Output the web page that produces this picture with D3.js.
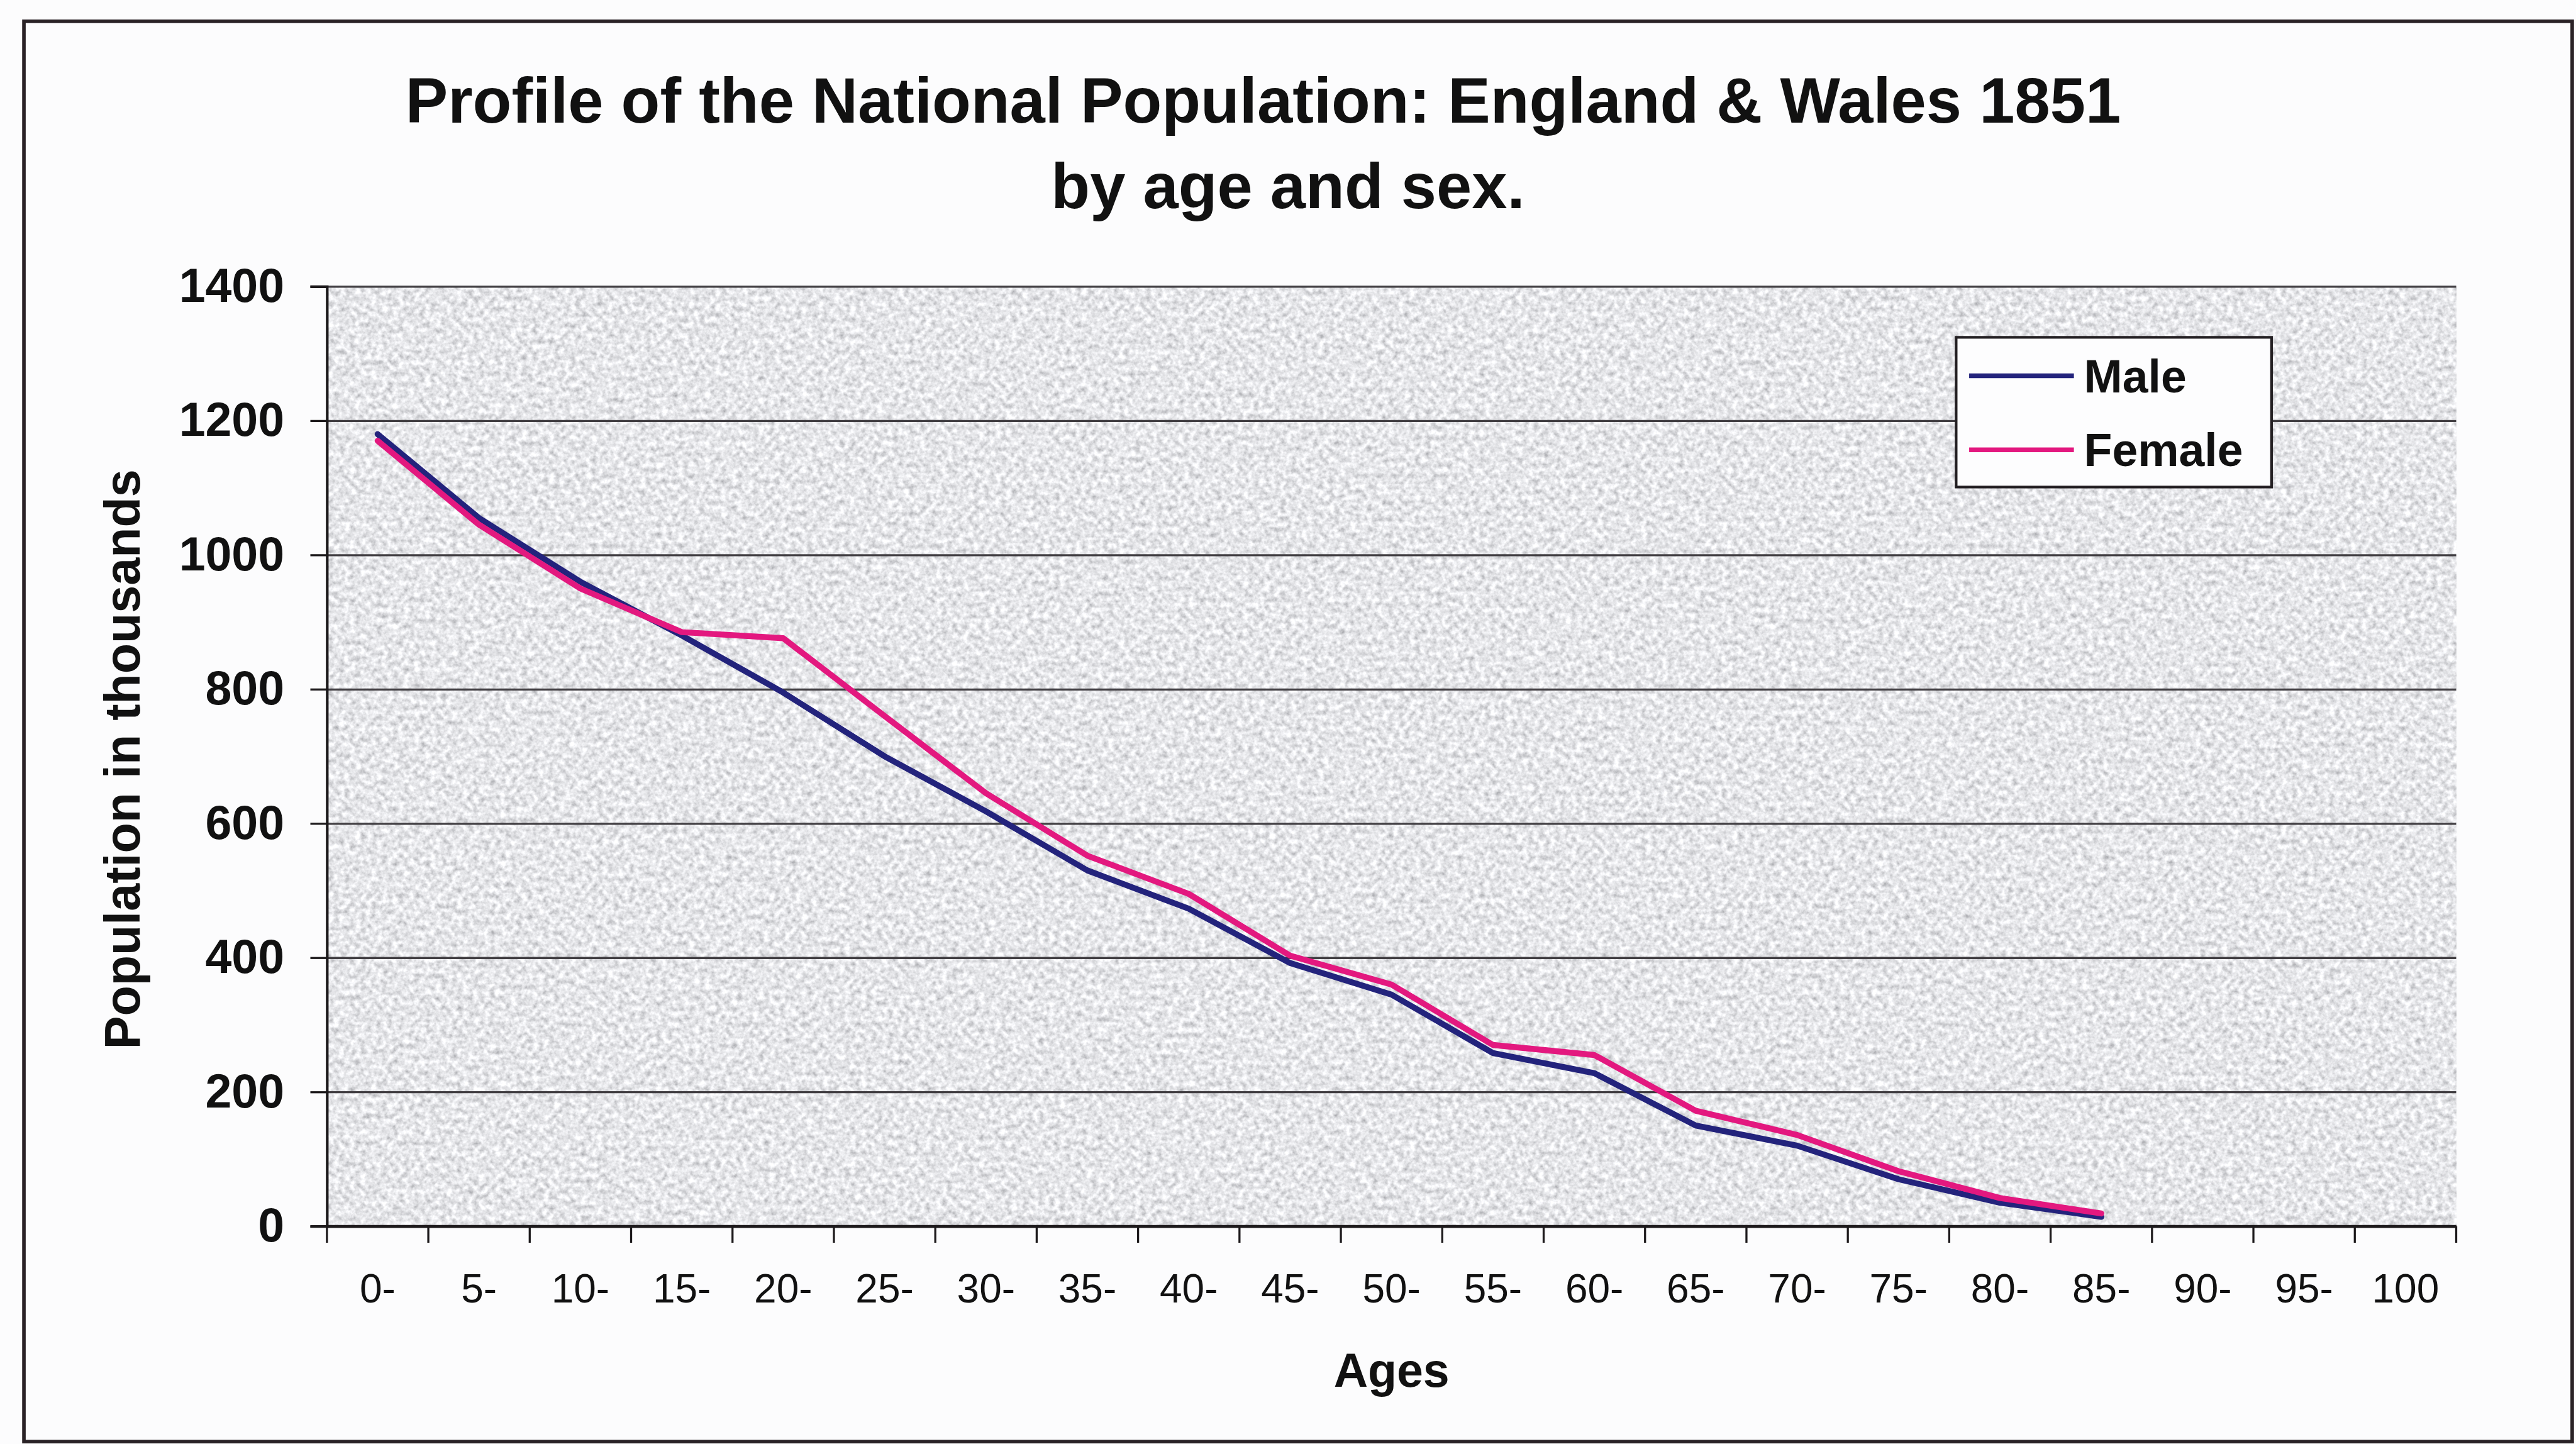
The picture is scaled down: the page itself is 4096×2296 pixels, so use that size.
<!DOCTYPE html>
<html>
<head>
<meta charset="utf-8">
<title>Profile of the National Population: England &amp; Wales 1851</title>
<script src="https://cdn.jsdelivr.net/npm/d3@7"></script>
<style>
  html, body { margin: 0; padding: 0; background: #fcfcfd; overflow: hidden; }
  svg { display: block; }
</style>
</head>
<body>
<svg id="chart" width="4096" height="2296" viewBox="0 0 4352 2440"></svg>
<script>
// Five-year age groups on the category axis
const ageGroups = ["0-", "5-", "10-", "15-", "20-", "25-", "30-", "35-", "40-", "45-",
                   "50-", "55-", "60-", "65-", "70-", "75-", "80-", "85-", "90-", "95-", "100"];

// Population in thousands, one value per age group (0- to 85-)
const maleThousands   = [1180, 1055, 960, 880, 795, 700, 618, 530, 473, 392,
                         345, 258, 228, 150, 120, 70, 35, 14];
const femaleThousands = [1170, 1045, 950, 885, 876, 760, 645, 552, 495, 403,
                         360, 270, 255, 172, 136, 82, 42, 19];

const yTicks = [0, 200, 400, 600, 800, 1000, 1200, 1400];
const seriesNames = ["Male", "Female"];
const seriesColors = ["#23237c", "#e3187f"];

const FONT = "'Liberation Sans', Arial, Helvetica, sans-serif";

const svg = d3.select("#chart");

// plot frame
const plot = { left: 552, right: 4150, top: 484, bottom: 2072 };

const x = d3.scaleBand()
  .domain(ageGroups)
  .range([plot.left, plot.right])
  .padding(0);

const y = d3.scaleLinear()
  .domain([0, 1400])
  .range([plot.bottom, plot.top]);

// grainy grey fill of the plot area
const defs = svg.append("defs");
const grain = defs.append("filter")
  .attr("id", "grain")
  .attr("x", 0).attr("y", 0).attr("width", 1).attr("height", 1);
grain.append("feTurbulence")
  .attr("type", "fractalNoise")
  .attr("baseFrequency", 0.11)
  .attr("numOctaves", 3)
  .attr("seed", 7)
  .attr("result", "noise");
grain.append("feColorMatrix")
  .attr("in", "noise")
  .attr("type", "matrix")
  .attr("values",
    "0.9 0 0 0 0.34  " +
    "0.9 0 0 0 0.345 " +
    "0.9 0 0 0 0.37  " +
    "0 0 0 0 1");

// outer chart border
svg.append("rect")
  .attr("x", 40).attr("y", 36)
  .attr("width", 4306).attr("height", 2400)
  .attr("fill", "#fcfcfd")
  .attr("stroke", "#2a2226")
  .attr("stroke-width", 6);

svg.append("rect")
  .attr("x", plot.left).attr("y", plot.top)
  .attr("width", plot.right - plot.left)
  .attr("height", plot.bottom - plot.top)
  .attr("fill", "#cfd0d6")
  .attr("filter", "url(#grain)");

// horizontal gridlines
const grid = svg.append("g")
  .attr("transform", `translate(${plot.left},0)`)
  .call(d3.axisLeft(y).tickValues(yTicks).tickSize(-(plot.right - plot.left)).tickFormat(""));
grid.select(".domain").remove();
grid.selectAll(".tick line")
  .attr("stroke", "#413e42")
  .attr("stroke-width", 3.5);

// value axis
const yAxis = svg.append("g")
  .attr("transform", `translate(${plot.left},0)`)
  .call(d3.axisLeft(y).tickValues(yTicks).tickSize(28).tickPadding(44).tickFormat(d3.format("d")));
yAxis.select(".domain")
  .attr("stroke", "#1d1a1c")
  .attr("stroke-width", 4.5);
yAxis.selectAll(".tick line")
  .attr("stroke", "#1d1a1c")
  .attr("stroke-width", 3.5);
yAxis.selectAll(".tick text")
  .attr("font-family", FONT)
  .attr("font-size", 80)
  .attr("font-weight", "bold")
  .attr("fill", "#111");

// category axis: ticks fall between age groups
const xAxis = svg.append("g")
  .attr("transform", `translate(0,${plot.bottom})`)
  .call(d3.axisBottom(x).tickSize(0).tickPadding(81));
xAxis.select(".domain")
  .attr("stroke", "#1d1a1c")
  .attr("stroke-width", 5);
xAxis.selectAll(".tick text")
  .attr("font-family", FONT)
  .attr("font-size", 68)
  .attr("fill", "#111");

const boundaries = ageGroups.map(g => x(g)).concat([plot.right]);
xAxis.selectAll("line.between")
  .data(boundaries)
  .join("line")
  .attr("class", "between")
  .attr("x1", d => d).attr("x2", d => d)
  .attr("y1", 0).attr("y2", 28)
  .attr("stroke", "#1d1a1c")
  .attr("stroke-width", 3.5);

// population lines
const line = d3.line()
  .x((d, i) => x(ageGroups[i]) + x.bandwidth() / 2)
  .y(d => y(d));

[maleThousands, femaleThousands].forEach((values, k) => {
  svg.append("path")
    .datum(values)
    .attr("fill", "none")
    .attr("stroke", seriesColors[k])
    .attr("stroke-width", 10)
    .attr("stroke-linejoin", "round")
    .attr("stroke-linecap", "round")
    .attr("d", line);
});

// legend
const legend = svg.append("g");
legend.append("rect")
  .attr("x", 3305).attr("y", 570)
  .attr("width", 533).attr("height", 253)
  .attr("fill", "#fdfdfe")
  .attr("stroke", "#231f22")
  .attr("stroke-width", 4.5);

const legendRows = [635, 760];
seriesNames.forEach((name, k) => {
  legend.append("line")
    .attr("x1", 3327).attr("x2", 3504)
    .attr("y1", legendRows[k]).attr("y2", legendRows[k])
    .attr("stroke", seriesColors[k])
    .attr("stroke-width", 8);
  legend.append("text")
    .attr("x", 3521)
    .attr("y", legendRows[k] + 28)
    .attr("font-family", FONT)
    .attr("font-size", 78)
    .attr("font-weight", "bold")
    .attr("fill", "#111")
    .text(name);
});

// titles
svg.append("text")
  .attr("x", 2134).attr("y", 207)
  .attr("text-anchor", "middle")
  .attr("font-family", FONT)
  .attr("font-size", 107.5)
  .attr("font-weight", "bold")
  .attr("fill", "#111")
  .text("Profile of the National Population: England & Wales 1851");

svg.append("text")
  .attr("x", 2176).attr("y", 352)
  .attr("text-anchor", "middle")
  .attr("font-family", FONT)
  .attr("font-size", 107.5)
  .attr("font-weight", "bold")
  .attr("fill", "#111")
  .text("by age and sex.");

svg.append("text")
  .attr("transform", "translate(236,1283) rotate(-90)")
  .attr("text-anchor", "middle")
  .attr("font-family", FONT)
  .attr("font-size", 84)
  .attr("font-weight", "bold")
  .attr("fill", "#111")
  .text("Population in thousands");

svg.append("text")
  .attr("x", 2351).attr("y", 2343)
  .attr("text-anchor", "middle")
  .attr("font-family", FONT)
  .attr("font-size", 80)
  .attr("font-weight", "bold")
  .attr("fill", "#111")
  .text("Ages");
</script>
</body>
</html>
